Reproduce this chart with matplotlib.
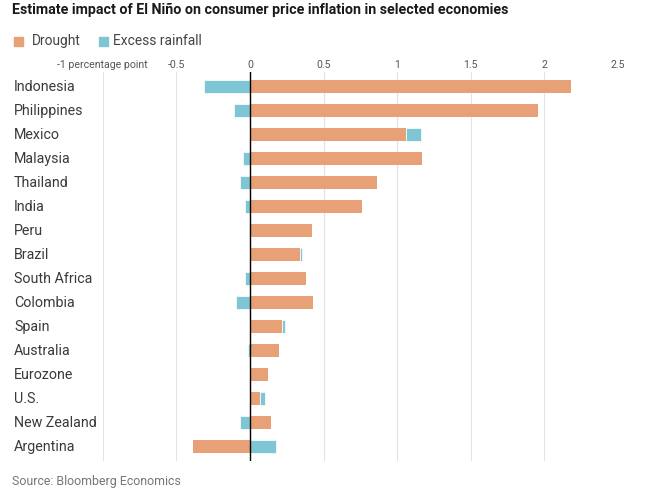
import matplotlib.pyplot as plt
import numpy as np
from matplotlib.patches import Rectangle
from matplotlib.transforms import blended_transform_factory

plt.rcParams['font.family'] = ['Roboto', 'DejaVu Sans']

countries = ["Indonesia", "Philippines", "Mexico", "Malaysia", "Thailand", "India",
             "Peru", "Brazil", "South Africa", "Colombia", "Spain", "Australia",
             "Eurozone", "U.S.", "New Zealand", "Argentina"]
drought = [2.18, 1.96, 1.06, 1.17, 0.86, 0.76, 0.42, 0.34, 0.38, 0.43, 0.22, 0.20,
           0.12, 0.07, 0.14, -0.39]
excess = [-0.31, -0.11, 0.10, -0.05, -0.07, -0.035, -0.005, 0.015, -0.035, -0.095,
          0.02, -0.015, 0.0, 0.03, -0.07, 0.18]
ticks = [-1, -0.5, 0, 0.5, 1, 1.5, 2, 2.5]
tick_labels = ["-1 percentage point", "-0.5", "0", "0.5", "1", "1.5", "2", "2.5"]

orange = '#e8a077'
blue = '#7ec6d4'

W, H = 650, 491
fig = plt.figure(figsize=(W / 100, H / 100), dpi=100)

# axes placed in pixel terms
left_px, right_px = 102.7, 618
top_px, bot_px = 72.3, 461
ax = fig.add_axes([left_px / W, 1 - bot_px / H, (right_px - left_px) / W, (bot_px - top_px) / H])

y = np.arange(len(countries))
d = np.array(drought)
e = np.array(excess)
e_left = np.where(e >= 0, np.maximum(d, 0), np.minimum(d, 0))

ax.barh(y, d, height=0.54, color=orange, zorder=2)
ax.barh(y, e, left=e_left, height=0.54, color=blue, edgecolor='white', linewidth=0.5, zorder=2)

ax.set_xlim(-1, 2.5)
ax.set_ylim(len(countries) - 0.4, -0.6)

for t in ticks:
    if t == 0:
        ax.axvline(0, color='black', lw=1, zorder=3)
    else:
        ax.axvline(t, color='#e3e3e3', lw=0.8, zorder=1)

ax.xaxis.tick_top()
ax.set_xticks(ticks)
ax.set_xticklabels(tick_labels, fontsize=7.6, color='#555555')
ax.tick_params(axis='x', length=0, pad=2)
ax.set_yticks([])
for s in ax.spines.values():
    s.set_visible(False)

trans = blended_transform_factory(fig.transFigure, ax.transData)
for i, c in enumerate(countries):
    ax.text(14 / W, i, c, transform=trans, ha='left', va='center', fontsize=10.3, color='#3a3a3a')

# title, legend, source
fig.text(12 / W, 1 - 10 / H, "Estimate impact of El Niño on consumer price inflation in selected economies",
         ha='left', va='center', fontsize=10.3, fontweight='bold', color='#1a1a1a')

fig.patches.append(Rectangle((14 / W, 1 - 46 / H), 9 / W, 9 / H, transform=fig.transFigure,
                             color=orange, figure=fig))
fig.text(32 / W, 1 - 41 / H, "Drought", ha='left', va='center', fontsize=9.9, color='#444444')
fig.patches.append(Rectangle((99 / W, 1 - 46 / H), 9 / W, 9 / H, transform=fig.transFigure,
                             color=blue, figure=fig))
fig.text(113 / W, 1 - 41 / H, "Excess rainfall", ha='left', va='center', fontsize=9.9, color='#444444')

fig.text(12 / W, 1 - 481 / H, "Source: Bloomberg Economics", ha='left', va='center',
         fontsize=8.9, color='#777777')

fig.savefig('out.png', dpi=100, facecolor='white')
